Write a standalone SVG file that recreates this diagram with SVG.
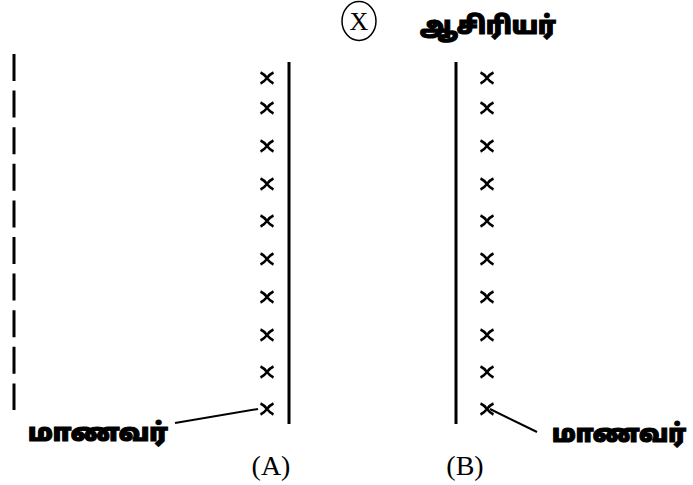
<svg xmlns="http://www.w3.org/2000/svg" width="693" height="485" viewBox="0 0 693 485">
<style>
.ta{font-family:"Noto Sans Tamil","Lohit Tamil","Noto Sans","DejaVu Sans",sans-serif;font-weight:900;font-size:25px;fill:#000;stroke:#000;stroke-width:1.2}
.lat{font-family:"Liberation Serif","Times New Roman",serif;fill:#000}
.ln{stroke:#000;stroke-width:3;fill:none}
.thin{stroke:#000;stroke-width:2;fill:none}
</style>
<defs>
<symbol id="x" viewBox="-7 -6 14 12" width="14" height="12" overflow="visible">
<path d="M-6.5,-5.5 Q-3,-4 0,0 Q3,4 6.5,5.5 M-6.5,5.5 Q-3,4 0,0 Q3,-4 6.5,-5.5" stroke="#000" stroke-width="2.5" fill="none"/>
</symbol>
</defs>
<g id="teacher">
<ellipse cx="359" cy="21" rx="17" ry="19.5" fill="none" stroke="#000" stroke-width="1.5"/>
<text class="lat" x="359" y="30" font-size="26" text-anchor="middle">X</text>
<text class="ta" x="420" y="34" textLength="136" lengthAdjust="spacingAndGlyphs">ஆசிரியர்</text>
</g>
<g id="dashed-line">
<line x1="14" y1="54" x2="14" y2="410" stroke="#000" stroke-width="3" stroke-dasharray="27 9.6"/>
</g>
<g id="row-A">
<line class="ln" x1="289" y1="62" x2="289" y2="424"/>
<use href="#x" x="260" y="72"/><use href="#x" x="260" y="102"/><use href="#x" x="260" y="140"/><use href="#x" x="260" y="178"/><use href="#x" x="260" y="215"/><use href="#x" x="260" y="253"/><use href="#x" x="260" y="291"/><use href="#x" x="260" y="329"/><use href="#x" x="260" y="366"/><use href="#x" x="260" y="403"/>
<text class="lat" x="271" y="475" font-size="28" text-anchor="middle">(A)</text>
</g>
<g id="row-B">
<line class="ln" x1="456" y1="62" x2="456" y2="424"/>
<use href="#x" x="480" y="72"/><use href="#x" x="480" y="102"/><use href="#x" x="480" y="140"/><use href="#x" x="480" y="178"/><use href="#x" x="480" y="215"/><use href="#x" x="480" y="253"/><use href="#x" x="480" y="291"/><use href="#x" x="480" y="329"/><use href="#x" x="480" y="366"/><use href="#x" x="480" y="403"/>
<text class="lat" x="465" y="475" font-size="28" text-anchor="middle">(B)</text>
</g>
<g id="label-student-A">
<text class="ta" x="28" y="441" textLength="140" lengthAdjust="spacingAndGlyphs">மாணவர்</text>
</g>
<g id="label-student-B">
<text class="ta" x="552" y="442" textLength="134" lengthAdjust="spacingAndGlyphs">மாணவர்</text>
</g>
<g id="connectors">
<line class="thin" x1="175" y1="423" x2="258" y2="409"/>
<line class="thin" x1="490" y1="409" x2="537" y2="432"/>
</g>
</svg>
